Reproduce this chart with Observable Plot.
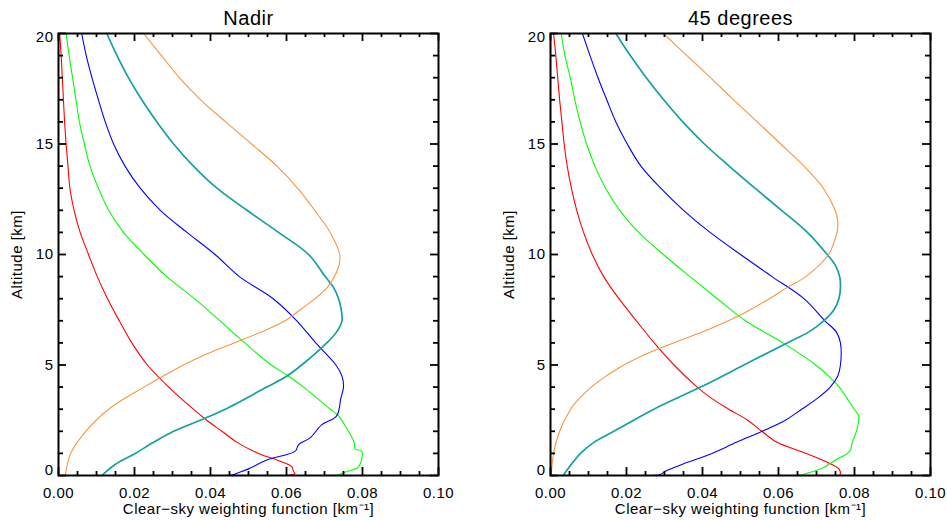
<!DOCTYPE html>
<html><head><meta charset="utf-8">
<script src="https://cdn.jsdelivr.net/npm/d3@7"></script>
<script src="https://cdn.jsdelivr.net/npm/@observablehq/plot@0.6"></script>
<style>
body{margin:0;background:#fff;}
#chart{display:flex;width:947px;height:520px;overflow:hidden;}
#chart svg text{letter-spacing:0.5px;}
</style></head><body><div id="chart"></div>
<script>
// ---- data: [altitude km, weighting function km^-1] ----
const panelTitles = ["Nadir", "45 degrees"];
const seriesNames = ["red", "green", "blue", "teal", "orange"];
const xLabel = "Clear\u2212sky weighting function [km\u207B\u00B9]";
const yLabel = "Altitude [km]";
const xMajorTicks = [0, 0.02, 0.04, 0.06, 0.08, 0.10];
const xMinorTicks = [0.005,0.01,0.015,0.025,0.03,0.035,0.045,0.05,0.055,0.065,0.07,0.075,0.085,0.09,0.095];
const yMajorTicks = [0, 5, 10, 15, 20];
const yMinorTicks = [1,2,3,4,6,7,8,9,11,12,13,14,16,17,18,19];

const nadirRed = [[20,0.0003],[19,0.0007],[18,0.001],[17,0.0013],[16,0.0016],[15,0.002],[14,0.0025],[13,0.003],[12,0.0041],[11,0.0057],[10,0.0079],[9,0.0102],[8,0.0129],[7,0.016],[6,0.0193],[5,0.0234],[4,0.029],[3,0.0355],[2.5,0.039],[2,0.043],[1.5,0.047],[1,0.0526],[0.7,0.0575],[0.4,0.0614],[0.2,0.0618],[0.08,0.0622],[0.03,0.0614],[0,0.0600],[0,0.0636]];
const nadirGreen = [[20,0.002],[19,0.0028],[18,0.0037],[17,0.0046],[16,0.0055],[15,0.0068],[14,0.0083],[13,0.0105],[12,0.0132],[11,0.0171],[10,0.0225],[9,0.0285],[8,0.0358],[7,0.0425],[6,0.049],[5,0.056],[4.5,0.0605],[4,0.0645],[3,0.0715],[2.7,0.0737],[2,0.0763],[1.5,0.0778],[1.2,0.078],[1.1,0.0798],[0.4,0.079],[0.2,0.0763],[0.1,0.0745],[0.03,0.0738],[0,0.0702]];
const nadirBlue = [[20,0.0061],[19,0.0073],[18,0.0088],[17,0.0105],[16,0.0123],[15,0.0145],[14,0.0175],[13,0.0215],[12,0.0268],[11,0.0338],[10,0.0412],[9,0.0476],[8,0.0565],[7,0.0627],[6,0.0677],[5,0.073],[4.5,0.0746],[4,0.075],[3.5,0.0743],[2.7,0.0732],[2.3,0.0693],[1.7,0.0662],[1.4,0.0632],[1.1,0.0623],[0.7,0.0548],[0.3,0.05],[0.1,0.0469],[0.03,0.046],[0,0.0434]];
const nadirTeal = [[20,0.0127],[19,0.0154],[18,0.0184],[17,0.0219],[16,0.0259],[15,0.0303],[14,0.0355],[13,0.0417],[12,0.0496],[11,0.0579],[10,0.0658],[9,0.0702],[8.5,0.0724],[8,0.0737],[7.5,0.0744],[7,0.0746],[6.5,0.0732],[6,0.0706],[5,0.064],[4.5,0.0601],[4,0.0548],[3,0.0439],[2.5,0.0373],[2,0.0303],[1.5,0.025],[1,0.0202],[0.5,0.0149],[0,0.0114]];
const nadirOrange = [[20,0.0224],[19,0.0271],[18,0.0318],[17,0.0374],[16,0.044],[15,0.0508],[14,0.0575],[13,0.0629],[12,0.0674],[11,0.0715],[10,0.074],[9.5,0.0738],[9,0.0726],[8.5,0.0707],[8,0.0675],[7.5,0.0636],[7,0.0596],[6.5,0.0535],[6,0.0462],[5.5,0.039],[5,0.0329],[4,0.0225],[3,0.0132],[2,0.0072],[1,0.0032],[0,0.0018]];

const slantRed = [[20,0.0008],[19,0.0014],[18,0.0019],[17,0.0024],[16,0.003],[15,0.0036],[14,0.0044],[13,0.0055],[12,0.0069],[11,0.0087],[10,0.011],[9,0.014],[8,0.018],[7,0.0226],[6,0.0273],[5,0.0325],[4,0.0386],[3.5,0.0423],[3,0.0469],[2.5,0.0519],[2,0.0556],[1.5,0.0596],[1,0.0673],[0.6,0.0728],[0.3,0.0759],[0.1,0.0763],[0.02,0.0762],[0,0.078],[0,0.072]];
const slantGreen = [[20,0.0028],[19,0.0038],[18,0.0052],[17,0.0064],[16,0.0078],[15,0.0095],[14,0.0117],[13,0.0145],[12,0.0182],[11,0.0232],[10,0.0297],[9,0.0367],[8,0.0439],[7,0.0513],[6,0.0612],[5,0.0698],[4.5,0.0732],[4,0.076],[3.5,0.078],[3,0.0799],[2.7,0.0811],[2,0.0805],[1.5,0.0794],[1.1,0.0788],[0.7,0.075],[0.3,0.0711],[0.1,0.0675],[0.02,0.066],[0,0.0614]];
const slantBlue = [[20,0.0084],[19,0.0104],[18,0.0125],[17,0.0148],[16,0.0172],[15,0.0202],[14,0.0238],[13,0.029],[12,0.035],[11,0.042],[10,0.05],[9,0.0583],[8,0.0667],[7,0.0722],[6.5,0.0752],[6,0.0763],[5,0.0763],[4.5,0.0756],[4,0.0736],[3.5,0.0703],[3,0.0661],[2.5,0.0618],[2,0.0557],[1.5,0.0489],[1,0.0425],[0.5,0.0346],[0.2,0.0303],[0.05,0.029],[0,0.0254]];
const slantTeal = [[20,0.0172],[19,0.021],[18,0.0252],[17,0.0298],[16,0.0348],[15,0.0405],[14,0.047],[13,0.0538],[12,0.0608],[11,0.0676],[10,0.0728],[9.5,0.075],[9,0.0761],[8.5,0.0763],[8,0.0759],[7.5,0.0746],[7,0.0719],[6.5,0.068],[6,0.0623],[5,0.0509],[4,0.0395],[3,0.0272],[2,0.0167],[1.5,0.0114],[1,0.0079],[0,0.0033]];
const slantOrange = [[20,0.0297],[19,0.0359],[18,0.0421],[17,0.0482],[16,0.0544],[15,0.0606],[14,0.0667],[13,0.0718],[12,0.0749],[11.5,0.0756],[11,0.0754],[10.5,0.0745],[10,0.0732],[9,0.0672],[8.5,0.0622],[8,0.0576],[7.5,0.0526],[7,0.0468],[6.5,0.0401],[6,0.0324],[5.5,0.0252],[5,0.0193],[4.5,0.0147],[4,0.0107],[3.5,0.0077],[3,0.0053],[2,0.0024],[1,0.0008],[0,0.0002]];

const panelSeries = [
  [nadirRed, nadirGreen, nadirBlue, nadirTeal, nadirOrange],
  [slantRed, slantGreen, slantBlue, slantTeal, slantOrange]
];

// ---- styles ----
const colors = {red: "#ff0000", green: "#00ff00", blue: "#0000ff", teal: "#14a0a3", orange: "#f7953f"};
const widths = {red: 1.1, green: 1.1, blue: 1.1, teal: 1.7, orange: 1.1};
const layouts = [
  {width: 477, marginLeft: 58, marginRight: 39},
  {width: 470, marginLeft: 73, marginRight: 17}
];
const H = 520, MT = 33, MB = 45;
const font = "'Liberation Sans', Arial, Helvetica, sans-serif";
const FS = 15;

function panel(i) {
  const L = layouts[i];
  const pw = L.width - L.marginLeft - L.marginRight;
  const ph = H - MT - MB;
  const lines = panelSeries[i].map((pts, k) => {
    const name = seriesNames[k];
    return Plot.line(pts, {x: d => d[1], y: d => d[0], stroke: colors[name], strokeWidth: widths[name], curve: "catmull-rom"});
  });
  const tk = {stroke: "black", strokeWidth: 1.8};
  return Plot.plot({
    width: L.width, height: H,
    marginLeft: L.marginLeft, marginRight: L.marginRight, marginTop: MT, marginBottom: MB,
    style: {fontFamily: font, fontSize: FS + "px", background: "white", color: "black", overflow: "visible"},
    x: {domain: [0, 0.1], axis: null},
    y: {domain: [0, 20], axis: null},
    marks: [
      ...lines,
      // ticks (inward, all four sides)
      Plot.tickX(xMajorTicks, {x: d => d, insetTop: ph - 8, ...tk}),
      Plot.tickX(xMinorTicks, {x: d => d, insetTop: ph - 4, ...tk}),
      Plot.tickX(xMajorTicks, {x: d => d, insetBottom: ph - 8, ...tk}),
      Plot.tickX(xMinorTicks, {x: d => d, insetBottom: ph - 4, ...tk}),
      Plot.tickY(yMajorTicks, {y: d => d, insetRight: pw - 8, ...tk}),
      Plot.tickY(yMinorTicks, {y: d => d, insetRight: pw - 5, ...tk}),
      Plot.tickY(yMajorTicks, {y: d => d, insetLeft: pw - 8, ...tk}),
      Plot.tickY(yMinorTicks, {y: d => d, insetLeft: pw - 5, ...tk}),
      Plot.frame({stroke: "black", strokeWidth: 2}),
      // tick labels
      Plot.axisX({ticks: xMajorTicks, tickSize: 0, tickPadding: 12, tickFormat: d3.format(".2f"), fontSize: FS, label: null}),
      Plot.axisY({ticks: yMajorTicks.filter(d => d > 0 && d < 20), tickSize: 0, tickPadding: 5, tickFormat: d3.format("d"), fontSize: FS, label: null}),
      Plot.axisY({ticks: [yMajorTicks[0]], tickSize: 0, tickPadding: 5, tickFormat: d3.format("d"), fontSize: FS, label: null, dy: -5}),
      Plot.axisY({ticks: [yMajorTicks[4]], tickSize: 0, tickPadding: 5, tickFormat: d3.format("d"), fontSize: FS, label: null, dy: 4}),
      // titles
      Plot.text([panelTitles[i]], {frameAnchor: "top", dy: -15, fontSize: 20, lineAnchor: "middle", textAnchor: "middle"}),
      Plot.text([xLabel], {frameAnchor: "bottom", dy: 33.5, fontSize: FS, lineAnchor: "middle", textAnchor: "middle"}),
      Plot.text([yLabel], {frameAnchor: "left", dx: -41, rotate: -90, fontSize: FS, lineAnchor: "middle", textAnchor: "middle"})
    ]
  });
}

const chart = document.getElementById("chart");
chart.appendChild(panel(0));
chart.appendChild(panel(1));
</script>
</body></html>
